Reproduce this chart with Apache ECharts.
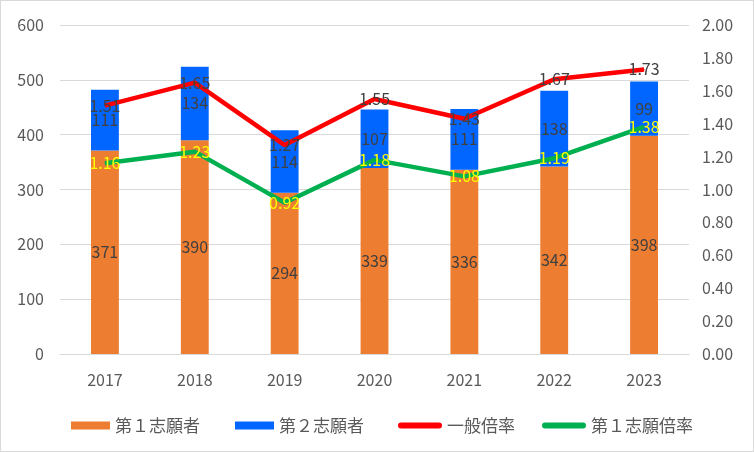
<!DOCTYPE html>
<html><head><meta charset="utf-8">
<script src="https://cdn.jsdelivr.net/npm/echarts@6/dist/echarts.min.js"></script>
<style>html,body{margin:0;padding:0;background:#fff}#c{width:752px;height:450px;border:1px solid #d9d9d9}</style>
</head><body><div id="c"></div>
<script>
const years = ['2017','2018','2019','2020','2021','2022','2023'];
const first = [371,390,294,339,336,342,398];
const second = [111,134,114,107,111,138,99];
const generalRate = [1.51,1.65,1.27,1.55,1.43,1.67,1.73];
const firstRate = [1.16,1.23,0.92,1.18,1.08,1.19,1.38];
const names = ['第１志願者','第２志願者','一般倍率','第１志願倍率'];
const font = '"Noto Sans CJK JP", "Noto Sans", sans-serif';
const lineIcon = 'path://M3,0 H41 A3,3 0 0 1 41,6 H3 A3,3 0 0 1 3,0 Z';
const legendText = {color:'#595959',fontSize:17,fontFamily:font};
function lg(name, left, icon, w, h){
  return {top:411,left:left,itemWidth:w,itemHeight:h,itemGap:0,textStyle:legendText,
    data:[{name:name,icon:icon}]};
}
const chart = echarts.init(document.getElementById('c'));
chart.setOption({
  animation:false,
  textStyle:{fontFamily:font},
  grid:{left:59,right:64,top:24,bottom:97},
  legend:[
    lg(names[0],65,'rect',39,8),
    lg(names[1],229,'rect',39,8),
    lg(names[2],392,lineIcon,44,6),
    lg(names[3],536,lineIcon,44,6)
  ],
  xAxis:{type:'category',data:years,axisTick:{show:false},
    axisLine:{lineStyle:{color:'#d9d9d9'}},
    axisLabel:{color:'#595959',fontSize:16,margin:18}},
  yAxis:[
    {type:'value',min:0,max:600,interval:100,axisLabel:{color:'#595959',fontSize:16,margin:16},
     splitLine:{lineStyle:{color:'#d9d9d9'}},axisLine:{show:false}},
    {type:'value',min:0,max:2,interval:0.2,axisLabel:{color:'#595959',fontSize:16,margin:13,formatter:v=>v.toFixed(2)},
     splitLine:{show:false},axisLine:{show:false}}
  ],
  series:[
    {name:names[0],type:'bar',stack:'a',data:first,barWidth:'31%',itemStyle:{color:'#ED7D31'},
     label:{show:true,position:'inside',color:'#404040',fontSize:16}},
    {name:names[1],type:'bar',stack:'a',data:second,itemStyle:{color:'#0066FF'},
     label:{show:true,position:'inside',color:'#404040',fontSize:16}},
    {name:names[2],type:'line',yAxisIndex:1,data:generalRate,symbol:'circle',symbolSize:1,showSymbol:true,
     lineStyle:{color:'#FF0000',width:4.5},itemStyle:{color:'#FF0000'},
     label:{show:true,position:'inside',color:'#404040',fontSize:16,formatter:p=>p.value.toFixed(2)}},
    {name:names[3],type:'line',yAxisIndex:1,data:firstRate,symbol:'circle',symbolSize:1,showSymbol:true,
     lineStyle:{color:'#00B050',width:4.5},itemStyle:{color:'#00B050'},
     label:{show:true,position:'inside',color:'#FFFF00',fontSize:16,formatter:p=>p.value.toFixed(2)}}
  ]
});
</script></body></html>
